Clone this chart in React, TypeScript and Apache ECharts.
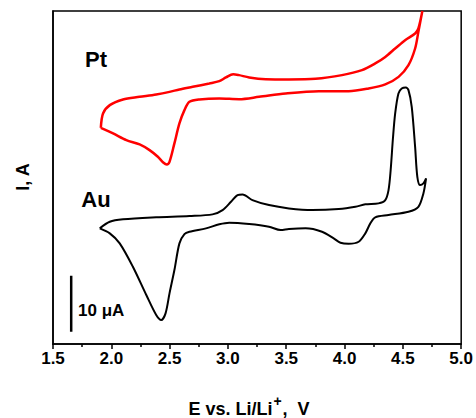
import React, { useEffect, useRef } from "react";
import * as echarts from "echarts";

// Potential (V vs Li/Li+) and current (µA, arbitrary offset)
const ptPotential = [
  1.910, 1.929, 1.987, 2.100, 2.243, 2.385, 2.499, 2.584, 2.698, 2.840, 2.926, 2.983, 3.045, 3.096, 3.182, 3.324, 3.523, 3.751, 3.978, 4.149, 4.263, 4.349, 4.434, 4.519, 4.605, 4.633, 4.667,
  4.633, 4.605, 4.548, 4.463, 4.349, 4.206, 4.035, 3.779, 3.495, 3.267, 3.096, 2.926, 2.755, 2.670, 2.627, 2.584, 2.541, 2.499, 2.476, 2.448, 2.399, 2.328, 2.243, 2.129, 2.015, 1.910,
];
const ptCurrent = [
  38.63, 41.20, 42.68, 43.70, 44.16, 44.59, 45.05, 45.48, 45.95, 46.55, 46.96, 47.63, 48.21, 48.04, 47.63, 47.32, 47.27, 47.38, 48.04, 48.93, 50.13, 51.30, 52.80, 54.29, 55.48, 56.38, 59.5,
  55.77, 52.80, 49.82, 47.73, 46.38, 45.66, 45.18, 45.18, 44.77, 44.16, 43.75, 43.88, 43.70, 43.27, 41.79, 39.41, 35.84, 32.55, 32.09, 32.38, 33.45, 34.64, 35.66, 36.43, 37.63, 38.63,
];

const auPotential = [
  1.901, 1.987, 2.100, 2.385, 2.670, 2.868, 2.954, 3.026, 3.082, 3.125, 3.210, 3.352, 3.523, 3.722, 3.950, 4.093, 4.178, 4.291, 4.349, 4.377, 4.395, 4.415, 4.434, 4.462, 4.490, 4.525, 4.548, 4.576, 4.605, 4.624, 4.648, 4.676, 4.699,
  4.676, 4.633, 4.548, 4.377, 4.263, 4.221, 4.178, 4.121, 4.035, 3.965, 3.907, 3.807, 3.666, 3.523, 3.452, 3.352, 3.182, 3.011, 2.926, 2.812, 2.670, 2.627, 2.584, 2.541, 2.499, 2.465, 2.428, 2.385, 2.300, 2.185, 2.072, 1.987, 1.901,
];
const auCurrent = [
  20.66, 21.84, 22.27, 22.63, 22.86, 23.16, 23.93, 25.41, 26.61, 26.73, 25.71, 24.82, 24.23, 23.93, 24.11, 24.52, 24.95, 25.13, 25.71, 27.50, 31.00, 36.80, 41.20, 44.77, 45.66, 45.84, 45.36, 42.38, 35.23, 29.88, 28.39, 28.70, 29.59,
  26.91, 24.52, 23.63, 23.04, 22.63, 21.55, 19.77, 18.27, 17.91, 18.09, 18.88, 20.05, 20.66, 20.54, 20.36, 20.95, 21.43, 21.66, 21.38, 20.66, 20.05, 19.64, 17.98, 13.21, 9.05, 5.48, 4.29, 5.18, 8.75, 13.80, 17.98, 19.77, 20.66,
];

// 10 µA scale bar
const scaleBarPotential = [1.656, 1.656];
const scaleBarCurrent = [2.2, 12.2];

const xTicks = { min: 1.5, max: 5.0, interval: 0.5 };
const yRange = { min: 0, max: 59.5 };

const FONT = 'Arial, "Liberation Sans", sans-serif';

function zip(xs: number[], ys: number[]) {
  return xs.map((x, i) => [x, ys[i]]);
}

export default function App() {
  const ref = useRef<HTMLDivElement>(null);
  useEffect(() => {
    if (!ref.current) return;
    const chart = echarts.init(ref.current, null, { renderer: "svg" });
    chart.setOption({
      animation: false,
      backgroundColor: "#fff",
      grid: {
        left: 53,
        top: 11,
        right: 13,
        bottom: 74,
        show: true,
        borderColor: "#000",
        borderWidth: 1.5,
        backgroundColor: "transparent",
      },
      xAxis: {
        type: "value",
        min: xTicks.min,
        max: xTicks.max,
        interval: xTicks.interval,
        axisLine: { show: true, lineStyle: { color: "#000", width: 1.5 } },
        axisTick: { show: true, inside: false, length: 5, lineStyle: { color: "#000", width: 1.5 } },
        minorTick: { show: true, splitNumber: 2, length: 3, lineStyle: { color: "#000", width: 1.5 } },
        splitLine: { show: false },
        axisLabel: {
          color: "#000",
          fontFamily: FONT,
          fontWeight: "bold",
          fontSize: 17,
          margin: 6,
          formatter: (v: number) => v.toFixed(1),
        },
      },
      yAxis: {
        type: "value",
        min: yRange.min,
        max: yRange.max,
        axisLine: { show: true, lineStyle: { color: "#000", width: 1.5 } },
        axisTick: { show: false },
        axisLabel: { show: false },
        splitLine: { show: false },
      },
      series: [
        {
          type: "line",
          name: "Pt",
          data: zip(ptPotential, ptCurrent),
          showSymbol: false,
          smooth: 0.3,
          lineStyle: { color: "#ff0000", width: 2.5 },
        },
        {
          type: "line",
          name: "Au",
          data: zip(auPotential, auCurrent),
          showSymbol: false,
          smooth: 0.3,
          lineStyle: { color: "#000", width: 2 },
        },
        {
          type: "line",
          name: "scale",
          data: zip(scaleBarPotential, scaleBarCurrent),
          showSymbol: false,
          lineStyle: { color: "#000", width: 2.5 },
        },
      ],
      graphic: [
        {
          type: "text",
          x: 96,
          y: 59,
          style: { text: "Pt", font: `bold 22px ${FONT}`, fill: "#000", align: "center", verticalAlign: "middle" },
        },
        {
          type: "text",
          x: 96,
          y: 199,
          style: { text: "Au", font: `bold 22px ${FONT}`, fill: "#000", align: "center", verticalAlign: "middle" },
        },
        {
          type: "text",
          x: 78,
          y: 310,
          style: { text: "10 μA", font: `bold 17px ${FONT}`, fill: "#000", align: "left", verticalAlign: "middle" },
        },
        {
          type: "text",
          x: 23,
          y: 177,
          rotation: Math.PI / 2,
          style: { text: "I, A", font: `bold 18px ${FONT}`, fill: "#000", align: "center", verticalAlign: "middle" },
        },
        {
          type: "text",
          x: 249,
          y: 406,
          style: {
            text: "{a|E vs. Li/Li}{s|+}{a|,  V}",
            align: "center",
            verticalAlign: "middle",
            rich: {
              a: { fontFamily: FONT, fontWeight: "bold", fontSize: 18, fill: "#000", color: "#000", lineHeight: 24, verticalAlign: "bottom" },
              s: { fontFamily: FONT, fontWeight: "bold", fontSize: 14, fill: "#000", color: "#000", lineHeight: 24, verticalAlign: "top", padding: [0, 1, 0, 1] },
            },
          },
        },
      ],
    });
    return () => chart.dispose();
  }, []);
  return <div ref={ref} style={{ position: "absolute", left: 0, top: 0, width: 476, height: 418 }} />;
}
